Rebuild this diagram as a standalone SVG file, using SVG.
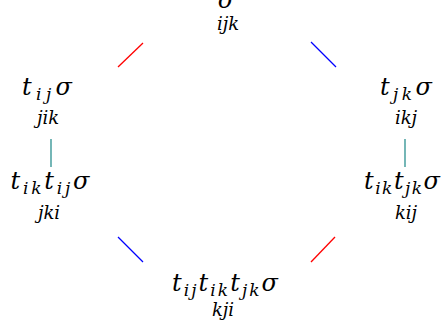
<svg xmlns="http://www.w3.org/2000/svg" width="446" height="329" viewBox="0 0 446 329">
<style>
.m{font-size:24px}
.s{font-size:17px}
.l{font-size:18px}
line{stroke-width:1.3;fill:none}
</style>
<rect width="446" height="329" fill="#fff"/>
<g id="connectors">
<line x1="118" y1="67" x2="143" y2="43" stroke="#ff0000"/>
<line x1="311" y1="42" x2="336" y2="67" stroke="#0000ff"/>
<line x1="118" y1="237" x2="143" y2="262" stroke="#0000ff"/>
<line x1="335" y1="237" x2="311" y2="262" stroke="#ff0000"/>
<line x1="51" y1="139" x2="51" y2="167" stroke="#2a9090"/>
<line x1="405" y1="139" x2="405" y2="167" stroke="#2a9090"/>
</g>
<g font-family="'DejaVu Serif', 'Liberation Serif', serif" font-style="italic" fill="#000" text-anchor="middle">
<g id="n_top">
<text class="m" x="226" y="8">σ</text>
<text class="l" x="228" y="30">ijk</text>
</g>
<g id="n_left1">
<text class="m" x="47" y="95" textLength="50" lengthAdjust="spacing">t<tspan class="s" dy="5">ij</tspan><tspan dy="-5">σ</tspan></text>
<text class="l" x="48" y="124">jik</text>
</g>
<g id="n_left2">
<text class="m" x="50" y="189" textLength="79" lengthAdjust="spacing">t<tspan class="s" dy="5">ik</tspan><tspan dy="-5">t</tspan><tspan class="s" dy="5">ij</tspan><tspan dy="-5">σ</tspan></text>
<text class="l" x="49" y="219">jki</text>
</g>
<g id="n_right1">
<text class="m" x="406" y="95" textLength="52" lengthAdjust="spacing">t<tspan class="s" dy="5">jk</tspan><tspan dy="-5">σ</tspan></text>
<text class="l" x="406" y="124">ikj</text>
</g>
<g id="n_right2">
<text class="m" x="402" y="189" textLength="76" lengthAdjust="spacing">t<tspan class="s" dy="5">ik</tspan><tspan dy="-5">t</tspan><tspan class="s" dy="5">jk</tspan><tspan dy="-5">σ</tspan></text>
<text class="l" x="406" y="219">kij</text>
</g>
<g id="n_bottom">
<text class="m" x="225" y="291" textLength="106" lengthAdjust="spacing">t<tspan class="s" dy="5">ij</tspan><tspan dy="-5">t</tspan><tspan class="s" dy="5">ik</tspan><tspan dy="-5">t</tspan><tspan class="s" dy="5">jk</tspan><tspan dy="-5">σ</tspan></text>
<text class="l" x="223" y="316">kji</text>
</g>
</g>
</svg>
